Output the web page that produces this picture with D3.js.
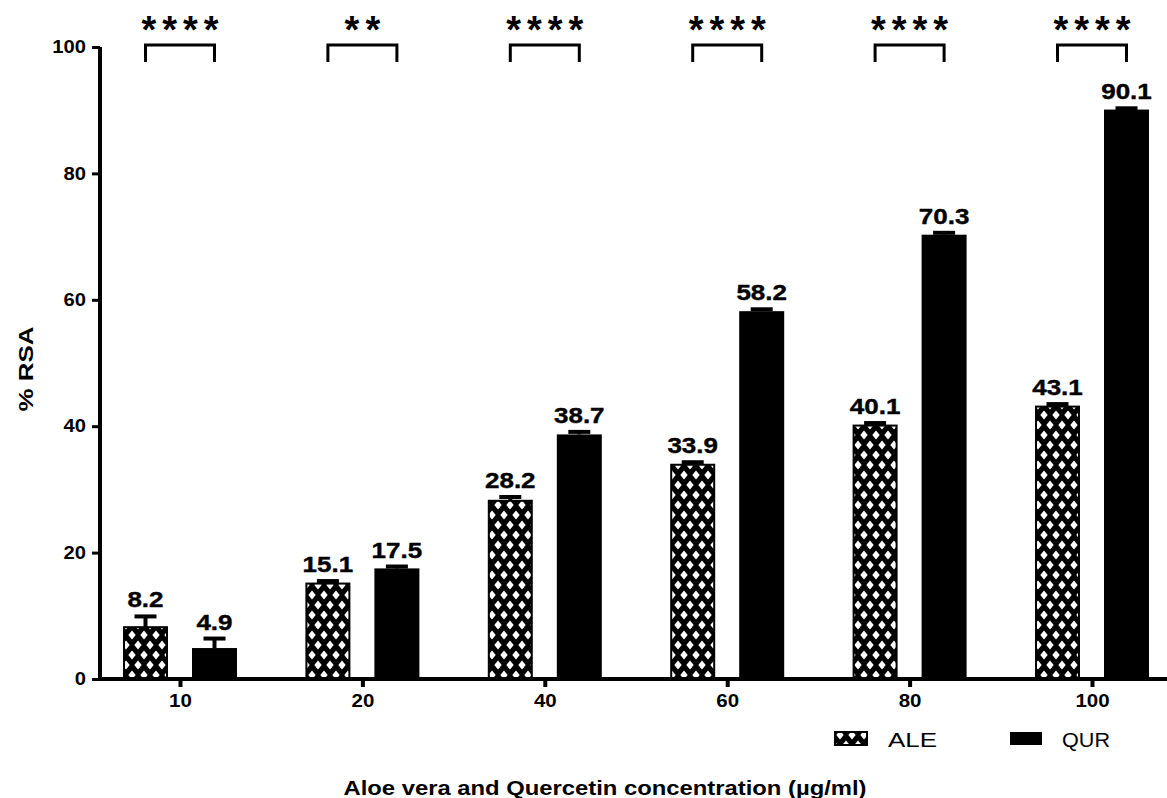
<!DOCTYPE html>
<html>
<head>
<meta charset="utf-8">
<script src="https://cdn.jsdelivr.net/npm/d3@7"></script>
<style>
  body { margin: 0; background: #fff; }
  svg { display: block; font-family: "Liberation Sans", Arial, sans-serif; }
</style>
</head>
<body>
<svg id="chart" width="1167" height="798"></svg>
<script>
const categories = ["10", "20", "40", "60", "80", "100"];
const aleValues = [8.2, 15.1, 28.2, 33.9, 40.1, 43.1];
const aleErrors = [1.7, 0.4, 0.6, 0.4, 0.4, 0.4];
const qurValues = [4.9, 17.5, 38.7, 58.2, 70.3, 90.1];
const qurErrors = [1.5, 0.3, 0.4, 0.3, 0.3, 0.2];
const significance = ["****", "**", "****", "****", "****", "****"];
const yTicks = [0, 20, 40, 60, 80, 100];
const seriesNames = ["ALE", "QUR"];

const svg = d3.select("#chart");

function stretch(sel, factor) {
  sel.each(function() {
    const len = this.getComputedTextLength();
    d3.select(this).attr("textLength", len * factor).attr("lengthAdjust", "spacingAndGlyphs");
  });
}

const defs = svg.append("defs");
const pat = defs.append("pattern")
  .attr("id", "hatch").attr("patternUnits", "userSpaceOnUse")
  .attr("width", 12).attr("height", 20);
pat.append("rect").attr("width", 12).attr("height", 20).attr("fill", "#000");
const dia = (cx, cy) => `M${cx},${cy-4.4} L${cx+3.7},${cy} L${cx},${cy+4.4} L${cx-3.7},${cy} Z`;
[[6,5],[0,15],[12,15],[0,-5],[12,-5],[6,25]].forEach(([x,y]) =>
  pat.append("path").attr("d", dia(x,y)).attr("fill", "#fff"));

const x = d3.scalePoint().domain(categories).range([180, 1092]);
const y = d3.scaleLinear().domain([0, 100]).range([679, 47]);
const off = 34.5, bw = 45;

const g = svg.append("g");
categories.forEach((c, i) => {
  const cx = x(c);
  g.append("rect")
    .attr("x", cx - off - bw/2 + 1).attr("y", y(aleValues[i]))
    .attr("width", bw - 2).attr("height", y(0) - y(aleValues[i]))
    .attr("fill", "url(#hatch)").attr("stroke", "#000").attr("stroke-width", 2);
  g.append("rect")
    .attr("x", cx + off - bw/2).attr("y", y(qurValues[i]))
    .attr("width", bw).attr("height", y(0) - y(qurValues[i]))
    .attr("fill", "#000");
});

function errBar(cx, v, e) {
  g.append("line").attr("x1", cx).attr("x2", cx)
    .attr("y1", y(v)).attr("y2", y(v + e)).attr("stroke", "#000").attr("stroke-width", 4);
  g.append("line").attr("x1", cx - 11).attr("x2", cx + 11)
    .attr("y1", y(v + e)).attr("y2", y(v + e)).attr("stroke", "#000").attr("stroke-width", 4);
}
categories.forEach((c, i) => {
  errBar(x(c) - off, aleValues[i], aleErrors[i]);
  errBar(x(c) + off, qurValues[i], qurErrors[i]);
});

function valLabel(cx, v, e) {
  svg.append("text").attr("x", cx).attr("y", y(v + e) - 9)
    .attr("text-anchor", "middle").attr("font-size", 22).attr("font-weight", "bold")
    .attr("stroke", "#000").attr("stroke-width", 0.4)
    .text(v.toFixed(1)).call(stretch, 1.18);
}
categories.forEach((c, i) => {
  valLabel(x(c) - off, aleValues[i], aleErrors[i]);
  valLabel(x(c) + off, qurValues[i], qurErrors[i]);
});

const yAxis = svg.append("g").attr("transform", "translate(100,0)")
  .call(d3.axisLeft(y).tickValues(yTicks).tickSize(8).tickPadding(6));
yAxis.select(".domain").attr("stroke-width", 4).attr("d", `M0,${y(0)+2}V${y(100)}`);
yAxis.selectAll(".tick line").attr("stroke-width", 3);
yAxis.selectAll(".tick text").attr("font-size", 18).attr("font-weight", "bold")
  .attr("font-family", "Liberation Sans, Arial, sans-serif").attr("fill", "#000")
  .call(stretch, 1.12);

const xAxis = svg.append("g").attr("transform", `translate(0,${y(0)})`)
  .call(d3.axisBottom(x).tickSize(8).tickPadding(7));
xAxis.select(".domain").attr("stroke-width", 4).attr("d", "M98,0H1167");
xAxis.selectAll(".tick line").attr("stroke-width", 4);
xAxis.selectAll(".tick text").attr("font-size", 18).attr("font-weight", "bold")
  .attr("font-family", "Liberation Sans, Arial, sans-serif").attr("fill", "#000")
  .call(stretch, 1.14);

categories.forEach((c, i) => {
  const x1 = x(c) - off, x2 = x(c) + off;
  svg.append("path").attr("d", `M${x1},62V45H${x2}V62`)
    .attr("fill", "none").attr("stroke", "#000").attr("stroke-width", 3);
  svg.append("text").attr("x", x(c)).attr("y", 43)
    .attr("text-anchor", "middle").attr("font-size", 38).attr("font-weight", "bold")
    .text(significance[i])
    .attr("textLength", significance[i].length * 20.5 - 5).attr("lengthAdjust", "spacing");
});

svg.append("text").attr("transform", "translate(33,369) rotate(-90)")
  .attr("text-anchor", "middle").attr("font-size", 20).attr("font-weight", "bold")
  .text("% RSA").attr("textLength", 85).attr("lengthAdjust", "spacingAndGlyphs");

svg.append("text").attr("x", 605).attr("y", 795)
  .attr("text-anchor", "middle").attr("font-size", 21).attr("font-weight", "bold")
  .text("Aloe vera and Quercetin concentration (µg/ml)")
  .attr("textLength", 523).attr("lengthAdjust", "spacingAndGlyphs");

const legend = svg.append("g");
const legX = [835, 1010], legTX = [888, 1062], legW = [49, 48];
seriesNames.forEach((n, i) => {
  legend.append("rect").attr("x", legX[i]).attr("y", 732).attr("width", 32).attr("height", 13)
    .attr("fill", i === 0 ? "url(#hatch)" : "#000").attr("stroke", "#000").attr("stroke-width", i === 0 ? 2 : 0);
  legend.append("text").attr("x", legTX[i]).attr("y", 747).attr("font-size", 21)
    .text(n).attr("textLength", legW[i]).attr("lengthAdjust", "spacingAndGlyphs");
});
</script>
</body>
</html>
